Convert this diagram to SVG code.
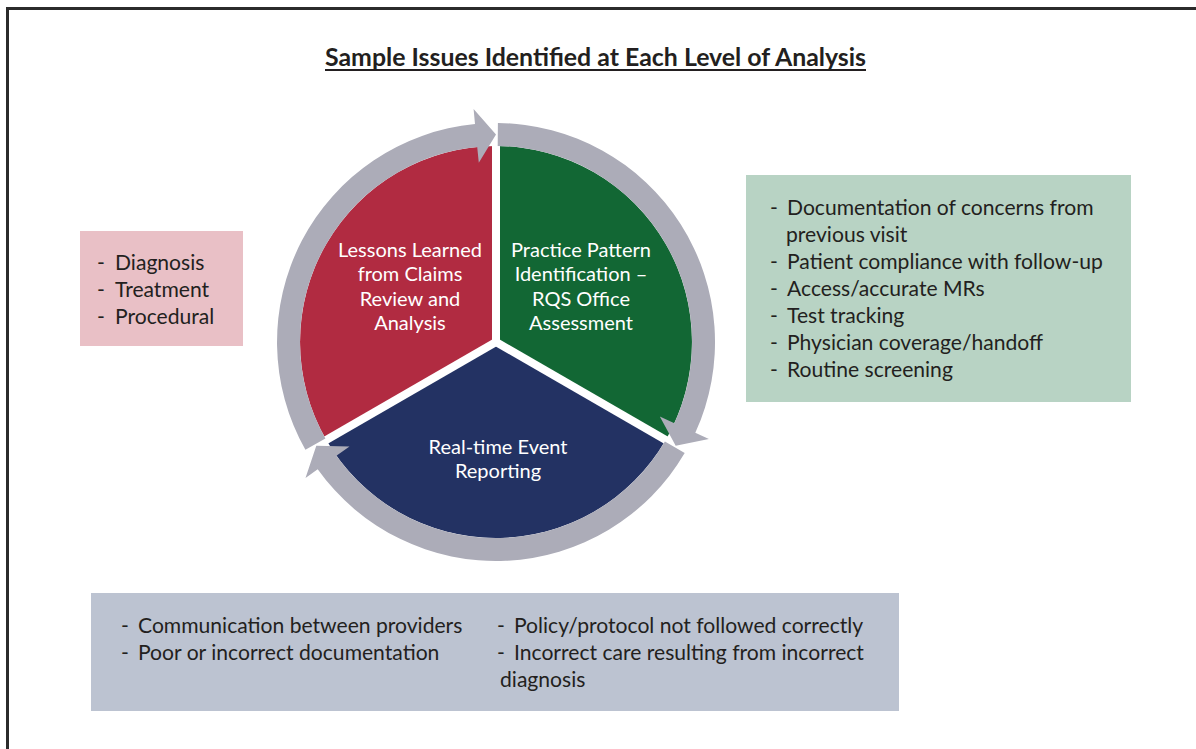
<svg xmlns="http://www.w3.org/2000/svg" width="1196" height="749" viewBox="0 0 1196 749">
  <style>
    .t { font-family: Lato, "Liberation Sans", sans-serif; font-size: 21.1px; fill: #231f20; }
    .w { font-family: Lato, "Liberation Sans", sans-serif; font-size: 20px; fill: #ffffff; text-anchor: middle; }
    .ttl { font-family: Lato, "Liberation Sans", sans-serif; font-size: 24px; font-weight: bold; fill: #231f20; text-anchor: middle; }
    .ring { fill: #acacb8; }
    .gap { stroke: #ffffff; stroke-width: 8; }
  </style>

  <rect width="1196" height="749" fill="#ffffff"/>
  <!-- frame -->
  <path d="M7.5 749 V8.5 H1196" fill="none" stroke="#2b2b2b" stroke-width="3"/>

  <!-- title -->
  <g id="title">
    <text class="ttl" x="595.5" y="66" textLength="541" lengthAdjust="spacingAndGlyphs">Sample Issues Identified at Each Level of Analysis</text>
    <rect x="325" y="69" width="541" height="2" fill="#231f20"/>
  </g>

  <!-- cycle wheel: three sectors -->
  <g id="sector-claims">
    <path d="M496 342 L326.3 440 A196 196 0 0 1 496 146 Z" fill="#b12b41"/>
    <text class="w" x="410" y="257">Lessons Learned</text>
    <text class="w" x="410" y="281">from Claims</text>
    <text class="w" x="410" y="306">Review and</text>
    <text class="w" x="410" y="330">Analysis</text>
  </g>
  <g id="sector-practice">
    <path d="M496 342 L496 146 A196 196 0 0 1 665.7 440 Z" fill="#126734"/>
    <text class="w" x="581" y="257">Practice Pattern</text>
    <text class="w" x="581" y="281">Identification –</text>
    <text class="w" x="581" y="306">RQS Office</text>
    <text class="w" x="581" y="330">Assessment</text>
  </g>
  <g id="sector-events">
    <path d="M496 342 L665.7 440 A196 196 0 0 1 326.3 440 Z" fill="#233263"/>
    <text class="w" x="498" y="454">Real-time Event</text>
    <text class="w" x="498" y="478">Reporting</text>
  </g>

  <!-- connectors: sector dividers and circular arrows -->
  <g id="connectors">
    <line class="gap" x1="496" y1="342" x2="496" y2="140"/>
    <line class="gap" x1="496" y1="342" x2="671" y2="443"/>
    <line class="gap" x1="496" y1="342" x2="321" y2="443"/>
    <path class="ring" d="M325.4 438.5 L305.4 449.8 A219 219 0 0 1 475.0 124.0 L473.6 109.1 L496 134.5 L478.8 162.8 L477.2 146.9 A196 196 0 0 0 325.4 438.5 Z"/>
    <path class="ring" d="M497.7 146.0 L497.9 123.0 A219 219 0 0 1 695.3 432.8 L708.9 439.0 L675.7 445.8 L659.8 416.6 L674.4 423.3 A196 196 0 0 0 497.7 146.0 Z"/>
    <path class="ring" d="M664.9 441.5 L684.7 453.1 A219 219 0 0 1 317.7 469.2 L305.5 477.9 L316.3 445.75 L349.5 446.5 L336.4 455.8 A196 196 0 0 0 664.9 441.5 Z"/>
  </g>

  <!-- issue boxes -->
  <g id="box-claims">
    <rect x="80" y="231" width="163" height="115" fill="#e9c0c6"/>
    <text class="t" y="270"><tspan x="97">-</tspan><tspan x="115">Diagnosis</tspan></text>
    <text class="t" y="297"><tspan x="97">-</tspan><tspan x="115">Treatment</tspan></text>
    <text class="t" y="324"><tspan x="97">-</tspan><tspan x="115">Procedural</tspan></text>
  </g>

  <g id="box-practice">
    <rect x="746" y="175" width="385" height="227" fill="#b8d3c4"/>
    <text class="t" y="215"><tspan x="770">-</tspan><tspan x="787">Documentation of concerns from</tspan></text>
    <text class="t" y="242"><tspan x="786">previous visit</tspan></text>
    <text class="t" y="269"><tspan x="770">-</tspan><tspan x="787">Patient compliance with follow-up</tspan></text>
    <text class="t" y="296"><tspan x="770">-</tspan><tspan x="787">Access/accurate MRs</tspan></text>
    <text class="t" y="323"><tspan x="770">-</tspan><tspan x="787">Test tracking</tspan></text>
    <text class="t" y="350"><tspan x="770">-</tspan><tspan x="787">Physician coverage/handoff</tspan></text>
    <text class="t" y="377"><tspan x="770">-</tspan><tspan x="787">Routine screening</tspan></text>
  </g>

  <g id="box-events">
    <rect x="91" y="593" width="808" height="118" fill="#bcc3d1"/>
    <text class="t" y="633"><tspan x="121">-</tspan><tspan x="138">Communication between providers</tspan></text>
    <text class="t" y="660"><tspan x="121">-</tspan><tspan x="138">Poor or incorrect documentation</tspan></text>
    <text class="t" y="633"><tspan x="497">-</tspan><tspan x="514">Policy/protocol not followed correctly</tspan></text>
    <text class="t" y="660"><tspan x="497">-</tspan><tspan x="514">Incorrect care resulting from incorrect</tspan></text>
    <text class="t" y="687"><tspan x="500">diagnosis</tspan></text>
  </g>
</svg>
